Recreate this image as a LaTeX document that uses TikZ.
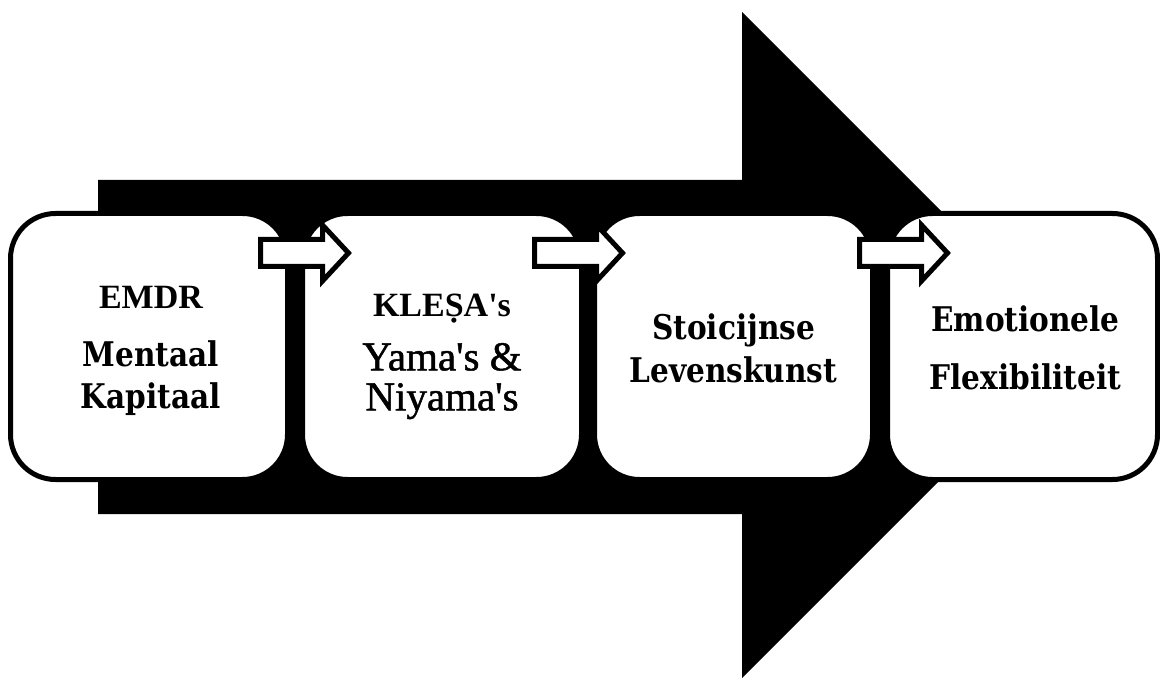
\documentclass[tikz,border=0pt]{standalone}
\usepackage{fontspec}
\setmainfont{DejaVu Serif}[BoldFeatures={FakeStretch=0.87}]
\newfontfamily\timesfont{Liberation Serif}
\newfontfamily\yamabase{Liberation Serif}[FakeBold=1.2]
\usetikzlibrary{positioning,calc}

\newcommand{\headfont}{\timesfont\bfseries\fontsize{34}{40}\selectfont}
\newcommand{\yamafont}{\yamabase\mdseries\fontsize{41}{40}\selectfont}

\tikzset{
	stage/.style={draw=black, line width=5pt, fill=white, rounded corners=45pt,
		minimum height=266pt, inner sep=0pt},
	stagetext/.style={align=center, inner sep=0pt, font=\bfseries\fontsize{34}{40}\selectfont},
	flowarrow/.style={draw=black, line width=5pt, fill=white, line join=miter},
}

\begin{document}
\begin{tikzpicture}[x=1pt, y=-1pt]
	\useasboundingbox (0,0) rectangle (1160,679);
	% big background arrow
	\fill[black] (98,180) -- (742,180) -- (742,12) -- (1075,345) -- (742,678) -- (742,514) -- (98,514) -- cycle;

	\node[stage, minimum width=277pt] (b1) at (149,346.5) {};
	\node[stage, minimum width=279pt] (b2) at (442,346.5) {};
	\node[stage, minimum width=278pt] (b3) at (733.5,346.5) {};
	\node[stage, minimum width=270pt] (b4) at (1022.5,346.5) {};

	\foreach \a/\dx in {b1/-29.5, b2/-49.5, b3/-15.5}
	{
		\draw[flowarrow] ($(\a.north east)+(\dx,28.5)$) -- ++(62,0) -- ++(0,-14.5) -- ++(26,28)
			-- ++(-26,28) -- ++(0,-14.5) -- ++(-62,0) -- cycle;
	}

	\node[stagetext, xshift=2pt, yshift=-4pt] (t1) at (b1) {{\headfont EMDR}\\[18pt]Mentaal\\[2pt]Kapitaal};
	\node[stagetext, yshift=-10pt] (t2) at (b2) {{\headfont KLEṢA\textquotesingle s}\\[14pt]{\yamafont Yama\textquotesingle s \&}\\{\yamafont Niyama\textquotesingle s}};
	\node[stagetext, yshift=-2pt] (t3) at (b3) {Stoicijnse\\[3pt]Levenskunst};
	\node[stagetext, xshift=3pt, yshift=-1.5pt] (t4) at (b4) {Emotionele\\[18pt]Flexibiliteit};
\end{tikzpicture}
\end{document}
